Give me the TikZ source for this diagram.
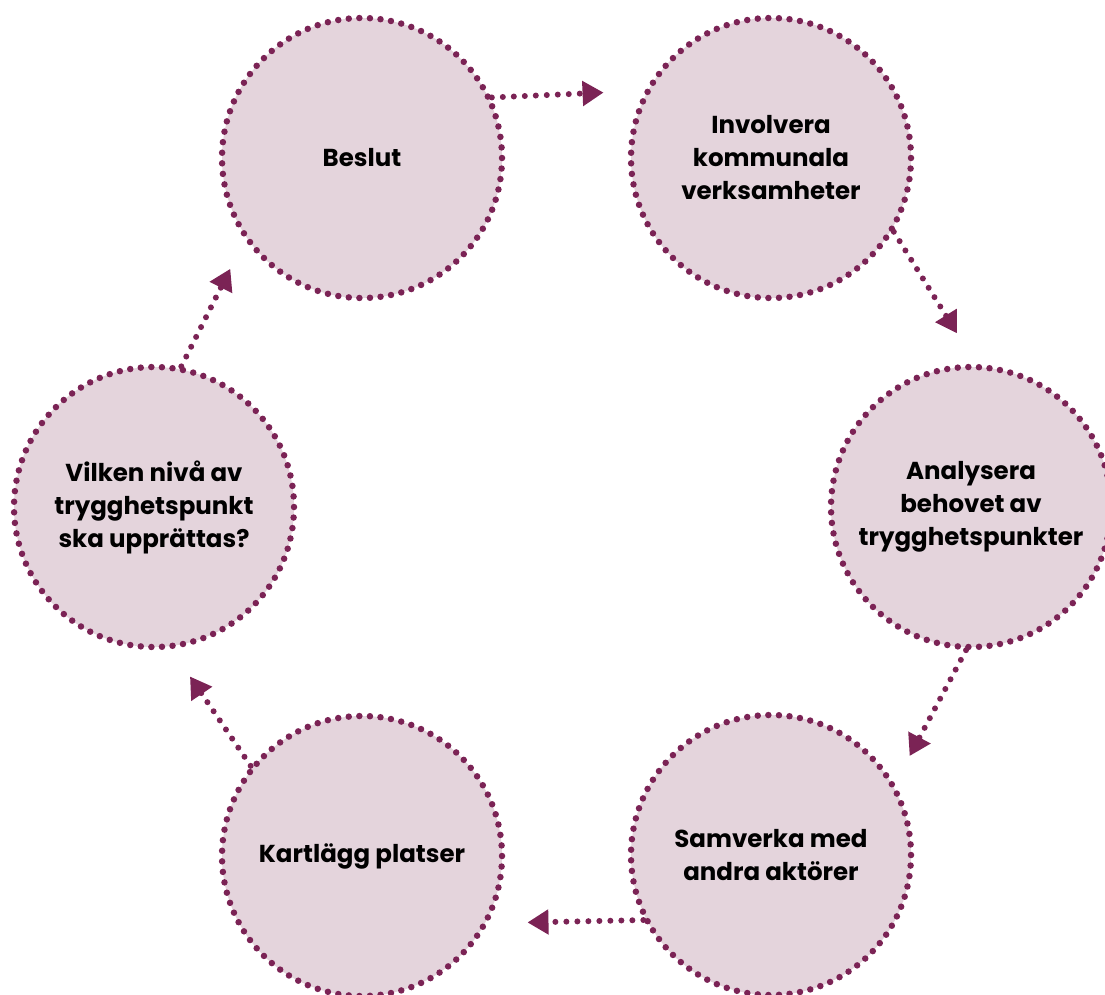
\documentclass[tikz,border=0pt]{standalone}
\usepackage{fontspec}
\setmainfont{Poppins}
\usetikzlibrary{arrows.meta}

\definecolor{fasfill}{HTML}{E4D4DC}
\definecolor{faslinje}{HTML}{7B2355}

\tikzset{
	fas/.style={circle, minimum size=280pt, inner sep=0pt, fill=fasfill, draw=faslinje,
		line width=6.5pt, line cap=round, dash pattern=on 0pt off 10.6pt,
		align=center, font=\bfseries\fontsize{24.5}{33}\selectfont},
	pil/.style={draw=faslinje, line width=6pt, line cap=round, dash pattern=on 0pt off 11pt,
		-{Triangle[length=21pt,width=24pt]}}
}

\begin{document}
\begin{tikzpicture}[x=1pt,y=-1pt]
		% Set the size of the picture
		\useasboundingbox (0,0) rectangle (1105,994);
		
		% The six steps
		\node[fas] (beslut) at (362,158) {Beslut};
		\node[fas] (involvera) at (771,158) {Involvera\\kommunala\\verksamheter};
		\node[fas] (analysera) at (971,507) {Analysera\\behovet av\\trygghetspunkter};
		\node[fas] (samverka) at (771,855) {Samverka med\\andra aktörer};
		\node[fas] (kartlagg) at (362,856) {Kartlägg platser};
		\node[fas] (vilken) at (154,507) {Vilken nivå av\\trygghetspunkt\\ska upprättas?};
		
		% Draw the arrows between the steps
		\draw[pil, shorten >=41pt] (beslut.25) -- (involvera.152);
		\draw[pil, shorten >=36pt] (involvera.-31) -- (analysera.88);
		\draw[pil, shorten >=31pt] (analysera.268) -- (samverka.30);
		\draw[pil, shorten >=39pt] (samverka.207) -- (kartlagg.332);
		\draw[pil, shorten >=33pt] (kartlagg.141) -- (vilken.277);
		\draw[pil, shorten >=32pt] (vilken.79) -- (beslut.215);
	\end{tikzpicture}
\end{document}
